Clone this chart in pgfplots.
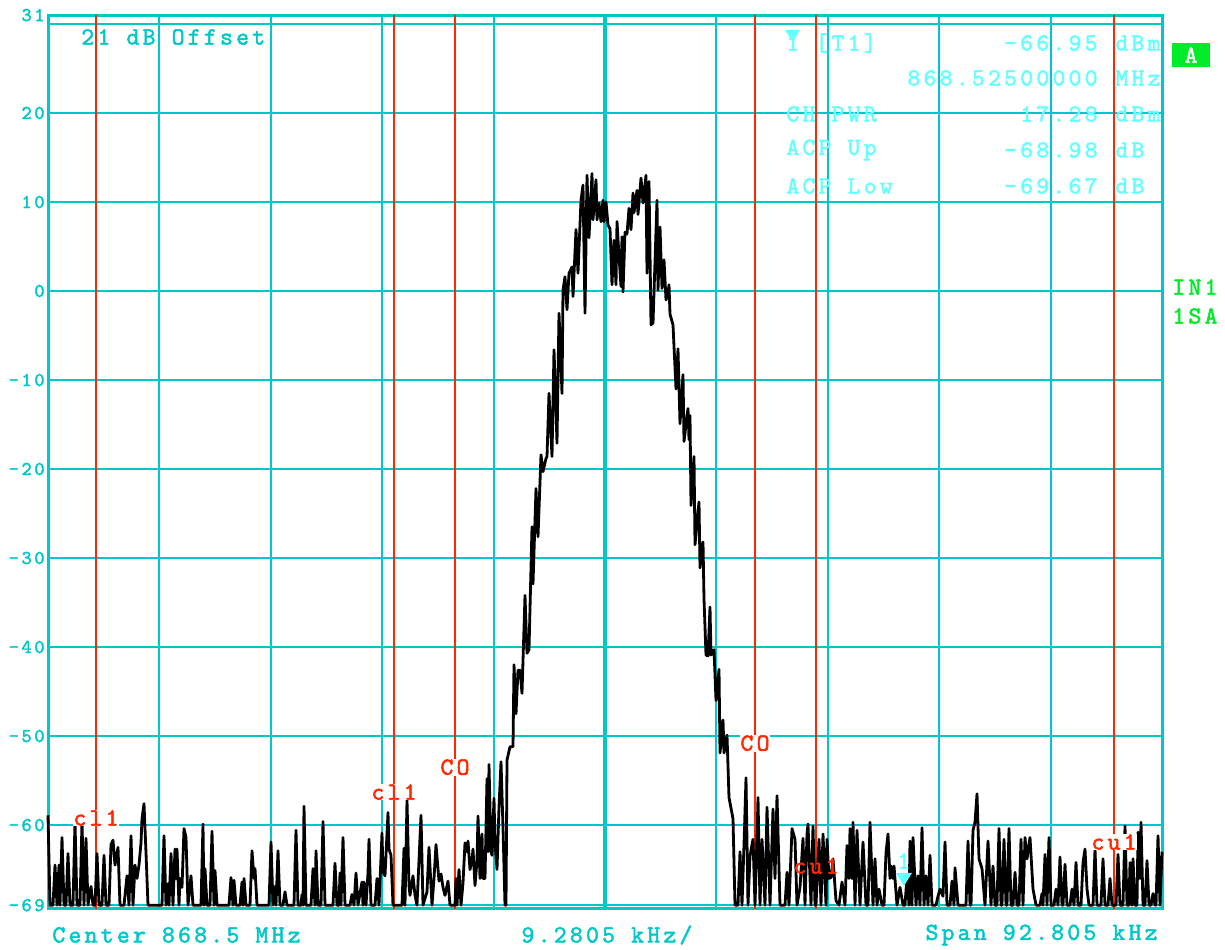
\documentclass[border=0pt]{standalone}
\usepackage{fontspec}
\usepackage{pgfplots}
\pgfplotsset{compat=1.18}
\newfontfamily\rsf[LetterSpace=13,FakeBold=2]{lmmono10-regular.otf}
\newcommand\mainf{\rsf\fontsize{12.3bp}{14bp}\selectfont}
\newcommand\tickf{\rsf\fontsize{9.8bp}{11bp}\selectfont}
\definecolor{gcyan}{RGB}{0,200,200}
\definecolor{lcyan}{RGB}{100,255,255}
\definecolor{rred}{RGB}{255,40,0}
\definecolor{ggreen}{RGB}{0,235,40}
\begin{document}
\begin{tikzpicture}
\begin{axis}[
  at={(24bp,-454.35bp)}, anchor=south west,
  width=557bp, height=446.8bp, scale only axis,
  xmin=48, xmax=1162, ymin=-69.4, ymax=31,
  axis line style={gcyan, line width=1.5bp},
  xtick={159.4,270.8,382.2,493.6,716.4,827.8,939.2,1050.6}, xticklabels={},
  ytick={-69,-60,-50,-40,-30,-20,-10,0,10,20,31},
  yticklabels={-69,-60,-50,-40,-30,-20,-10,0,10,20,31},
  extra y ticks={30}, extra y tick labels={},
  extra x ticks={605}, extra x tick labels={},
  extra x tick style={grid style={gcyan, line width=2bp}},
  major tick length=0pt,
  grid=major, grid style={gcyan, line width=1bp},
  yticklabel style={font=\tickf, text=gcyan, inner sep=1.5bp},
  clip=false,
]
\foreach \xx in {96,394,455,755,816,1114}{
  \edef\tmp{\noexpand\draw[rred, line width=0.7bp] (axis cs:\xx,-69.4) -- (axis cs:\xx,31);}\tmp
}
\addplot[black, line width=1.4bp, line join=round] table {
48 -58.9
50 -69
53 -69
55 -64.5
57 -69
59 -64.5
60 -69
62 -61.4
64 -69
66 -69
68 -63.2
70 -69
73 -69
75 -59.6
77 -69
80 -69
82 -59.6
84 -69
86 -61.5
88 -69
91 -66.9
93 -69
95 -69
97 -63.2
99 -69
102 -69
104 -63.4
106 -69
109 -69
111 -62.2
113 -61.7
115 -64.5
118 -62.5
120 -69
124 -69
127 -65.7
129 -69
131 -61.2
133 -69
135 -64.5
137 -66
139 -64.5
141 -62
142 -59.3
144 -57.6
146 -63.1
148 -69
162 -69
164 -61.2
166 -69
168 -66.6
169 -69
171 -63.2
173 -69
175 -62.7
176 -66
177 -62.7
179 -69
180 -66
182 -67
184 -60.4
186 -61.4
188 -69
191 -65.7
193 -69
201 -69
203 -59.9
204 -69
205 -64.9
207 -69
210 -69
212 -60.7
214 -69
215 -65.1
217 -69
229 -69
231 -65.9
233 -69
234 -66.2
236 -69
240 -69
242 -66.4
243 -69
244 -66
246 -69
250 -69
252 -62.9
254 -66
255 -64.9
257 -69
269 -69
271 -61.9
273 -69
275 -66.9
276 -69
278 -62.9
280 -69
283 -69
285 -67.5
287 -69
294 -69
296 -60.6
298 -69
301 -69
302 -67.8
303 -69
304 -57.9
306 -69
311 -69
313 -64.9
315 -69
316 -62.9
318 -69
321 -69
323 -59.6
325 -69
333 -69
335 -64.3
337 -69
339 -69
340 -65.4
341 -69
343 -61.4
345 -69
350 -69
352 -67.8
354 -69
356 -65.4
358 -69
362 -66.4
363 -69
364 -66.4
366 -69
368 -65.4
369 -61.6
371 -69
375 -69
377 -66
379 -69
382 -60.9
383 -65.3
385 -65.7
388 -58.6
389 -62.7
391 -63.4
393 -69
402 -69
404 -62.6
405 -69
407 -57.2
409 -66.8
410 -67.9
413 -65.7
415 -67.9
417 -69
421 -58.9
423 -69
427 -67.5
429 -62.5
432 -69
434 -66
436 -62.2
439 -66.3
441 -65.5
443 -67
445 -67.9
448 -66.3
450 -69
455 -69
456 -66
457 -69
459 -65
461 -69
463 -66.5
465 -62
467 -63
468 -61.8
470 -65
472 -64
473 -62.7
475 -66.8
477 -64
478 -59
480 -66
482 -61
483 -66
485 -66
487 -54.8
488 -63
489 -53.2
491 -63
492 -63.4
494 -57
495 -62
497 -65
499 -58
501 -52.9
503 -60.3
505 -69
506 -69
507 -52.7
510 -51.2
513 -51.2
514 -42
516 -47.5
518 -42.6
520 -42.6
522 -45.2
525 -34.2
527 -40.7
529 -40.3
532 -26.5
533 -32.9
536 -22.2
538 -27.6
541 -18.4
543 -20.3
546 -18.8
547 -18.6
549 -11.5
552 -18.6
554 -6.6
557 -17.1
559 -2.5
562 -11.5
563 0.1
565 1.6
567 -2.1
569 2
572 2.7
573 -0.6
576 6.9
578 2
581 10.2
583 11.9
585 -2.5
587 13
589 6
592 13.2
593 8
596 12.5
597 8
599 9.9
601 7.8
603 10.2
604 7.8
606 10
608 7.4
610 7
612 0.7
614 5.7
616 0.7
617 7.8
619 3.9
621 0.5
622 6.1
623 -0.1
625 6.6
627 6.4
629 9.3
631 6.9
633 11
634 8.8
637 11.3
638 8.6
641 12.7
643 9.9
646 13
647 2
649 12.3
651 -3.8
653 -3.6
657 10.2
658 0.1
660 7.2
662 0.3
664 3.5
666 -1
668 -0.3
669 0.7
670 -2.6
673 -3.8
676 -11
678 -6.5
680 -14.9
683 -9.4
684 -16.9
688 -13.2
689 -16.7
690 -14
691 -24.1
694 -18.6
695 -28.5
699 -23.7
700 -31.1
703 -28.2
704 -34.6
706 -40.9
708 -41
710 -35.5
711 -40.9
714 -40.3
716 -46
719 -42.5
720 -51.9
723 -48.2
724 -51.9
727 -49.9
729 -56.9
733 -59.3
735 -69
738 -69
740 -63
742 -69
744 -62.2
746 -54.7
748 -69
750 -63.5
752 -62.2
753 -61.6
755 -69
757 -61.5
758 -56.9
760 -69
762 -61.6
765 -69
767 -58
770 -69
773 -58.2
775 -66
777 -56.7
780 -69
785 -69
787 -65.3
789 -69
792 -60.4
795 -61.6
797 -69
800 -67
803 -61.5
805 -69
807 -61
808 -59.9
811 -69
813 -60.1
815 -69
816 -69
819 -61.6
821 -69
823 -61
826 -69
827 -61.6
829 -66
831 -65.9
833 -63.8
836 -68.5
839 -69
842 -66.4
845 -69
847 -62.3
849 -66
850 -60.4
852 -66
853 -59.7
855 -69
857 -60.6
860 -69
863 -61.9
866 -69
868 -69
870 -59.7
873 -69
875 -63.8
877 -69
879 -67.2
882 -69
884 -69
886 -63.1
888 -61
890 -66
891 -64.6
893 -66
894 -64.6
897 -69
900 -67
903 -69
905 -69
907 -65.7
909 -69
910 -61.8
912 -69
913 -61.4
916 -69
918 -65.7
920 -69
922 -60.3
924 -69
926 -65.7
928 -69
930 -63.4
932 -69
936 -69
938 -68
940 -67.2
943 -68
945 -61.9
947 -69
950 -69
952 -66.3
954 -69
955 -64.8
958 -69
966 -69
968 -61.8
970 -69
971 -69
973 -60.6
975 -59.7
977 -56.5
979 -63.8
982 -64.9
985 -69
988 -61.8
991 -69
993 -64.6
995 -69
997 -69
999 -60.4
1001 -69
1002 -69
1004 -61.6
1006 -69
1007 -69
1009 -60.4
1011 -69
1013 -69
1015 -65.3
1017 -69
1019 -69
1021 -61.6
1023 -69
1025 -61.4
1027 -63.8
1030 -61.4
1033 -67.2
1036 -69
1040 -69
1042 -67.7
1043 -69
1045 -63.3
1047 -69
1049 -61.4
1051 -69
1054 -69
1056 -67.2
1058 -69
1060 -63.6
1062 -69
1063 -69
1065 -64.4
1067 -69
1070 -69
1072 -67.2
1074 -69
1076 -64.2
1078 -69
1081 -69
1083 -64.2
1085 -62.7
1087 -67.2
1089 -69
1093 -69
1095 -62.7
1097 -69
1101 -69
1103 -63.8
1105 -69
1108 -69
1110 -66
1112 -69
1116 -69
1118 -63.3
1120 -69
1123 -69
1125 -60.1
1127 -69
1129 -69
1130 -64.2
1132 -69
1133 -63.8
1135 -69
1137 -69
1138 -60.8
1140 -66
1141 -59.7
1143 -69
1145 -69
1147 -64
1149 -69
1151 -69
1153 -67.7
1155 -69
1156 -69
1158 -61.2
1160 -69
1162 -63
};
\node[fill=white, inner sep=0.3bp, text=rred, font=\mainf] at (axis cs:96,-59.2) {cl1};
\node[fill=white, inner sep=0.3bp, text=rred, font=\mainf] at (axis cs:394,-56.3) {cl1};
\node[fill=white, inner sep=0.3bp, text=rred, font=\mainf] at (axis cs:455,-53.5) {CO};
\node[fill=white, inner sep=0.3bp, text=rred, font=\mainf] at (axis cs:755,-50.8) {CO};
\node[inner sep=0.3bp, text=rred, font=\mainf] at (axis cs:816,-64.6) {cu1};
\node[fill=white, inner sep=0.3bp, text=rred, font=\mainf] at (axis cs:1114,-61.9) {cu1};
\end{axis}
\begin{scope}[x=0.5bp,y=-0.5bp]
\node[anchor=west, text=gcyan, font=\mainf, inner sep=0pt] at (81,37) {21 dB Offset};
% marker block
\fill[lcyan] (785,30) -- (800,30) -- (792.5,42) -- cycle;
\foreach \yy/\aa/\bb/\cc in {43/{1 [T1]}/{-66.95}/dBm, 114/{CH PWR}/{17.28}/dBm, 150/{ACP Up}/{-68.98}/dB, 186/{ACP Low}/{-69.67}/dB}{
  \node[anchor=west, text=lcyan, font=\mainf, inner sep=0pt] at (786,\yy) {\aa};
  \node[anchor=east, text=lcyan, font=\mainf, inner sep=0pt] at (1098,\yy) {\bb};
  \node[anchor=west, text=lcyan, font=\mainf, inner sep=0pt] at (1115,\yy) {\cc};
}
\node[anchor=east, text=lcyan, font=\mainf, inner sep=0pt] at (1098,78) {868.52500000};
\node[anchor=west, text=lcyan, font=\mainf, inner sep=0pt] at (1115,78) {MHz};
% A box
\fill[ggreen] (1172,43) rectangle (1210,67);
\node[text=white, font=\mainf, inner sep=0pt] at (1191,55) {A};
\node[anchor=west, text=ggreen, font=\mainf, inner sep=0pt] at (1172,287) {IN1};
\node[anchor=west, text=ggreen, font=\mainf, inner sep=0pt] at (1172,316) {1SA};
% marker on trace
\fill[lcyan] (896,873) -- (912,873) -- (904,886) -- cycle;
\node[text=lcyan, font=\mainf, inner sep=0pt] at (904,861) {1};
% bottom
\node[anchor=west, text=gcyan, font=\mainf, inner sep=0pt] at (52,935) {Center 868.5 MHz};
\node[text=gcyan, font=\mainf, inner sep=0pt] at (607,935) {9.2805 kHz/};
\node[anchor=east, text=gcyan, font=\mainf, inner sep=0pt] at (1158,935) {Span 92.805 kHz};
\end{scope}
\pgfresetboundingbox
\path[use as bounding box] (0,0) rectangle (612.5bp,-475bp);
\end{tikzpicture}
\end{document}
